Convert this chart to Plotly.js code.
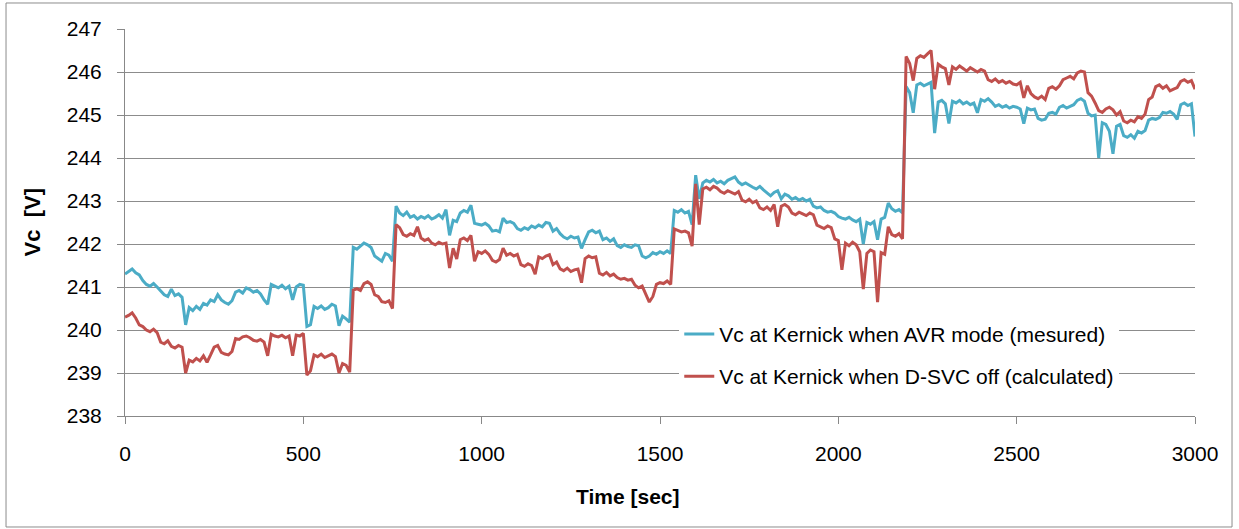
<!DOCTYPE html>
<html><head><meta charset="utf-8">
<script src="https://cdn.plot.ly/plotly-3.0.1.min.js"></script>
<style>html,body{margin:0;padding:0;background:#fff;}#chart{width:1239px;height:529px;}</style>
</head><body><div id="chart"></div>
<script>
const timeSec = [
0,10,20,30,40,50,60,70,80,90,
100,110,120,130,140,150,160,170,180,190,
200,210,220,230,240,250,260,270,280,290,
300,310,320,330,340,350,360,370,380,390,
400,410,420,430,440,450,460,470,480,490,
500,510,520,530,540,550,560,570,580,590,
600,610,620,630,640,650,660,670,680,690,
700,710,720,730,740,750,760,770,780,790,
800,810,820,830,840,850,860,870,880,890,
900,910,920,930,940,950,960,970,980,990,
1000,1010,1020,1030,1040,1050,1060,1070,1080,1090,
1100,1110,1120,1130,1140,1150,1160,1170,1180,1190,
1200,1210,1220,1230,1240,1250,1260,1270,1280,1290,
1300,1310,1320,1330,1340,1350,1360,1370,1380,1390,
1400,1410,1420,1430,1440,1450,1460,1470,1480,1490,
1500,1510,1520,1530,1540,1550,1560,1570,1580,1590,
1600,1610,1620,1630,1640,1650,1660,1670,1680,1690,
1700,1710,1720,1730,1740,1750,1760,1770,1780,1790,
1800,1810,1820,1830,1840,1850,1860,1870,1880,1890,
1900,1910,1920,1930,1940,1950,1960,1970,1980,1990,
2000,2010,2020,2030,2040,2050,2060,2070,2080,2090,
2100,2110,2120,2130,2140,2150,2160,2170,2180,2190,
2200,2210,2220,2230,2240,2250,2260,2270,2280,2290,
2300,2310,2320,2330,2340,2350,2360,2370,2380,2390,
2400,2410,2420,2430,2440,2450,2460,2470,2480,2490,
2500,2510,2520,2530,2540,2550,2560,2570,2580,2590,
2600,2610,2620,2630,2640,2650,2660,2670,2680,2690,
2700,2710,2720,2730,2740,2750,2760,2770,2780,2790,
2800,2810,2820,2830,2840,2850,2860,2870,2880,2890,
2900,2910,2920,2930,2940,2950,2960,2970,2980,2990,
3000];

const vcAVRmeasured = [
241.30,241.36,241.42,241.33,241.28,241.15,241.06,241.02,241.08,241.00,
240.90,240.82,240.78,240.95,240.80,240.84,240.76,240.12,240.52,240.45,
240.55,240.48,240.62,240.58,240.70,240.66,240.82,240.70,240.64,240.60,
240.68,240.88,240.92,240.86,240.98,240.94,240.88,240.92,240.84,240.70,
240.60,241.06,241.02,240.98,241.04,240.96,241.02,240.70,241.00,241.06,
241.04,240.08,240.12,240.55,240.50,240.56,240.48,240.52,240.60,240.56,
240.10,240.32,240.26,240.18,241.92,241.88,241.95,242.02,241.98,241.92,
241.72,241.66,241.60,241.78,241.74,241.60,242.88,242.72,242.66,242.74,
242.62,242.66,242.58,242.64,242.60,242.66,242.58,242.62,242.68,242.60,
242.80,242.20,242.55,242.52,242.72,242.78,242.74,242.90,242.48,242.46,
242.44,242.48,242.42,242.30,242.32,242.28,242.60,242.50,242.52,242.48,
242.36,242.32,242.38,242.34,242.42,242.38,242.44,242.40,242.50,242.48,
242.30,242.36,242.24,242.16,242.12,242.18,242.14,242.16,241.90,242.10,
242.28,242.32,242.26,242.30,242.10,242.14,242.06,242.12,241.96,241.92,
241.98,241.94,241.92,241.98,241.96,241.72,241.68,241.72,241.80,241.76,
241.82,241.78,241.84,241.78,242.78,242.74,242.80,242.72,242.76,242.45,
243.60,243.05,243.42,243.48,243.44,243.50,243.42,243.46,243.40,243.48,
243.52,243.56,243.44,243.38,243.42,243.36,243.32,243.28,243.34,243.26,
243.18,243.12,243.20,243.24,243.05,243.16,243.12,243.04,243.08,243.02,
243.06,243.00,243.04,242.88,242.84,242.86,242.78,242.74,242.76,242.72,
242.64,242.60,242.58,242.62,242.56,242.52,242.58,242.00,242.50,242.46,
242.52,242.10,242.58,242.62,242.95,242.82,242.76,242.80,242.72,245.66,
245.52,245.05,245.70,245.74,245.68,245.72,245.76,244.58,245.30,245.34,
245.26,244.80,245.32,245.28,245.34,245.26,245.30,245.24,245.28,245.05,
245.36,245.32,245.38,245.30,245.20,245.24,245.18,245.22,245.16,245.20,
245.18,245.14,244.80,245.16,245.12,245.14,244.92,244.88,244.90,245.04,
245.06,245.02,245.18,245.22,245.16,245.20,245.24,245.34,245.38,245.32,
245.04,244.98,245.00,244.00,244.82,244.78,244.62,244.10,244.74,244.78,
244.52,244.48,244.54,244.46,244.62,244.58,244.64,244.88,244.92,244.90,
244.94,245.06,245.04,245.08,245.02,244.90,245.24,245.28,245.22,245.26,
244.50];

const vcDSVCoff = [
240.30,240.34,240.40,240.28,240.12,240.08,240.00,239.96,240.02,239.94,
239.72,239.68,239.75,239.62,239.58,239.64,239.60,239.00,239.30,239.26,
239.34,239.28,239.40,239.25,239.42,239.60,239.64,239.48,239.44,239.42,
239.50,239.80,239.78,239.84,239.86,239.82,239.76,239.74,239.78,239.72,
239.40,239.90,239.86,239.84,239.88,239.82,239.86,239.40,239.88,239.86,
239.92,238.95,239.05,239.42,239.38,239.44,239.36,239.40,239.44,239.38,
239.00,239.22,239.18,239.02,240.93,240.96,240.92,241.08,241.12,241.06,
240.82,240.78,240.66,240.64,240.68,240.50,242.45,242.38,242.22,242.18,
242.24,242.20,242.40,242.14,242.08,242.12,242.02,241.98,242.04,242.00,
242.02,241.44,241.90,241.65,242.10,242.14,242.08,242.20,241.60,241.82,
241.78,241.84,241.76,241.62,241.58,241.64,241.90,241.74,241.78,241.72,
241.76,241.52,241.48,241.54,241.50,241.30,241.70,241.66,241.72,241.75,
241.52,241.58,241.42,241.38,241.44,241.36,241.40,241.42,241.10,241.66,
241.72,241.68,241.70,241.32,241.28,241.34,241.26,241.30,241.22,241.18,
241.20,241.16,241.18,241.04,240.98,241.02,240.82,240.65,240.78,241.06,
241.10,241.08,241.14,241.06,242.35,242.32,242.28,242.30,242.26,241.95,
243.40,242.45,243.28,243.32,243.26,243.34,243.30,243.22,243.18,243.24,
243.20,243.16,243.22,243.02,242.98,243.04,242.96,243.00,242.84,242.80,
242.86,242.78,242.92,242.40,242.88,242.92,242.86,242.72,242.68,242.74,
242.70,242.66,242.72,242.68,242.44,242.40,242.36,242.42,242.38,242.12,
242.08,241.40,242.02,241.96,242.04,241.98,241.82,240.95,241.78,241.86,
241.82,240.65,241.80,241.76,242.40,242.22,242.18,242.24,242.12,246.36,
246.20,245.80,246.32,246.38,246.34,246.42,246.50,245.60,246.18,246.12,
246.08,245.70,246.12,246.06,246.14,246.08,246.02,246.10,246.04,246.00,
246.06,246.02,245.82,245.78,245.84,245.76,245.80,245.74,245.78,245.72,
245.70,245.76,245.40,245.68,245.50,245.42,245.38,245.44,245.36,245.62,
245.66,245.60,245.68,245.82,245.86,245.90,245.84,245.98,246.02,246.00,
245.52,245.44,245.28,245.10,245.06,245.14,245.18,245.12,245.00,245.08,
244.86,244.82,244.88,244.84,244.96,244.92,245.02,245.36,245.42,245.66,
245.70,245.62,245.68,245.56,245.60,245.64,245.78,245.82,245.76,245.80,
245.60];

const seriesNames = [
  "Vc at Kernick when AVR mode (mesured)",
  "Vc at Kernick when D-SVC off (calculated)"
];
const xTickValues = [0, 500, 1000, 1500, 2000, 2500, 3000];
const yTickValues = [238, 239, 240, 241, 242, 243, 244, 245, 246, 247];
const xTitle = "Time [sec]";
const yTitle = "Vc\u00a0\u00a0[V]";

const FONT = "Liberation Sans, Arial, sans-serif";
const traces = [
  {x: timeSec, y: vcAVRmeasured, name: seriesNames[0], type: "scatter", mode: "lines",
   line: {color: "#4bacc6", width: 3}, legendgroup: "a"},
  {x: timeSec, y: vcDSVCoff, name: seriesNames[1], type: "scatter", mode: "lines",
   line: {color: "#c0504d", width: 3}, legendgroup: "b"}
];

const layout = {
  width: 1239, height: 529,
  margin: {l: 125, r: 44, t: 29, b: 113},
  paper_bgcolor: "#ffffff", plot_bgcolor: "#ffffff",
  font: {family: FONT, size: 21, color: "#000000"},
  showlegend: true,
  legend: {x: 0.518, xanchor: "left", y: 0.264, yanchor: "top",
           bgcolor: "#ffffff", borderwidth: 0, tracegroupgap: 12,
           font: {family: FONT, size: 21, color: "#000000"}},
  xaxis: {range: [0, 3000], tickvals: xTickValues, ticks: "outside", ticklen: 7,
          tickcolor: "#888888", showline: true, linecolor: "#888888", linewidth: 1,
          showgrid: false, zeroline: false, ticklabelstandoff: 12,
          tickfont: {family: FONT, size: 21, color: "#000000"}},
  yaxis: {range: [238, 247], tickvals: yTickValues, ticks: "outside", ticklen: 7,
          tickcolor: "#888888", showline: true, linecolor: "#888888", linewidth: 1,
          showgrid: true, gridcolor: "#8c8c8c", gridwidth: 1, zeroline: false,
          ticklabelstandoff: 11,
          tickfont: {family: FONT, size: 21, color: "#000000"}},
  annotations: [
    {text: "<b>" + xTitle + "</b>", xref: "paper", yref: "paper", x: 0.470, y: -0.209,
     xanchor: "center", yanchor: "middle", showarrow: false,
     font: {family: FONT, size: 21, color: "#000000"}},
    {text: "<b>" + yTitle + "</b>", xref: "paper", yref: "paper", x: -0.0860, y: 0.5,
     xanchor: "center", yanchor: "middle", showarrow: false, textangle: -90,
     font: {family: FONT, size: 22, color: "#000000"}}
  ],
  shapes: [
    {type: "rect", xref: "paper", yref: "paper", x0: -0.1112, x1: 1.0346, y0: -0.2868, y1: 1.0672,
     line: {color: "#8c8c8c", width: 1}, fillcolor: "rgba(0,0,0,0)", layer: "below"}
  ]
};

Plotly.newPlot("chart", traces, layout, {displayModeBar: false, staticPlot: true});
</script>
</body></html>
